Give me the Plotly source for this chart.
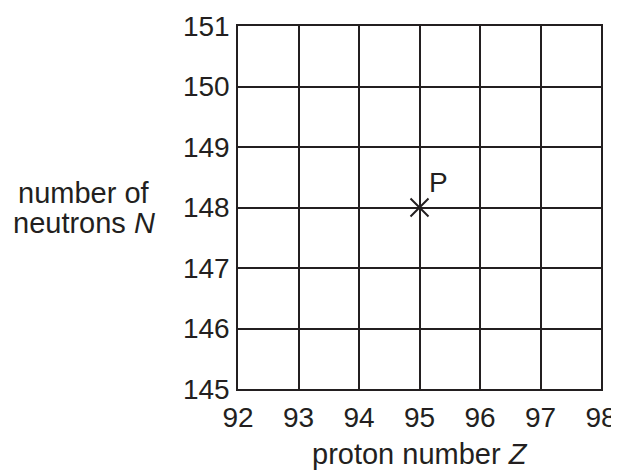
import plotly.graph_objects as go

# axis ranges and ticks
z_ticks = [92, 93, 94, 95, 96, 97, 98]
n_ticks = [145, 146, 147, 148, 149, 150, 151]

# the marked nuclide
point_z = [95]
point_n = [148]
point_label = ["P"]

ink = "#231f20"
font = "Liberation Sans, Arial, sans-serif"
fsize = 28

fig = go.Figure()

fig.add_trace(go.Scatter(
    x=point_z,
    y=point_n,
    mode="markers",
    marker=dict(symbol="x-thin", size=18, line=dict(color=ink, width=2)),
    showlegend=False,
    hoverinfo="skip",
))

for z, n, t in zip(point_z, point_n, point_label):
    fig.add_annotation(x=z, y=n, text=t, showarrow=False,
                       xanchor="left", yanchor="middle",
                       xshift=7, yshift=25,
                       font=dict(family=font, size=fsize, color=ink))

# axis titles as annotations so they sit exactly where the original has them
title_font = dict(family=font, size=29, color=ink)
fig.add_annotation(xref="paper", yref="paper", x=-0.425, y=0.541,
                   text="number of", showarrow=False,
                   xanchor="center", yanchor="middle", font=title_font)
fig.add_annotation(xref="paper", yref="paper", x=-0.425, y=0.458,
                   text="neutrons <i>N</i>", showarrow=False,
                   xanchor="center", yanchor="middle", font=title_font)
fig.add_annotation(xref="paper", yref="paper", x=0.502, y=-0.18,
                   text="proton number <i>Z</i>", showarrow=False,
                   xanchor="center", yanchor="middle", font=title_font)

axis_common = dict(
    dtick=1,
    showgrid=True,
    gridcolor=ink,
    gridwidth=1.6,
    showline=True,
    linecolor=ink,
    linewidth=1.6,
    mirror=True,
    zeroline=False,
    ticks="",
    automargin=False,
    tickfont=dict(family=font, size=fsize, color=ink),
)

# the page body adds an 8px margin, so the figure is a bit smaller than the window
fig.update_layout(
    width=611,
    height=465,
    margin=dict(l=229.5, r=18, t=18, b=84),
    paper_bgcolor="white",
    plot_bgcolor="white",
    xaxis=dict(axis_common, range=[z_ticks[0], z_ticks[-1]], tickvals=z_ticks,
               ticklabelstandoff=3),
    yaxis=dict(axis_common, range=[n_ticks[0], n_ticks[-1]], tickvals=n_ticks,
               ticklabelstandoff=1),
)

fig.write_html("out.html")
